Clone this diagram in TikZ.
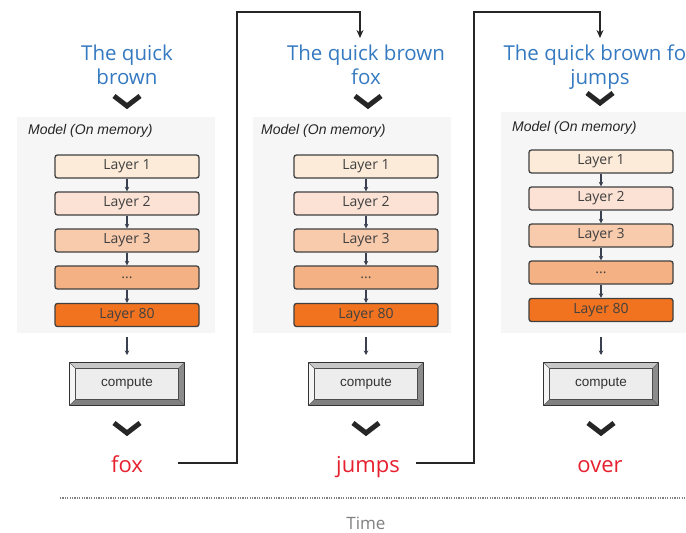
\documentclass[tikz,border=0pt]{standalone}
\usepackage{fontspec}
\setmainfont{Open Sans}
\newfontfamily\arialf{Liberation Sans}
\usetikzlibrary{calc,arrows.meta}
\definecolor{titleblue}{HTML}{3579C0}
\definecolor{wordred}{HTML}{E6202E}
\definecolor{lone}{HTML}{FCEBD8}
\definecolor{ltwo}{HTML}{FBE2D5}
\definecolor{lthree}{HTML}{F8CBAD}
\definecolor{ldots}{HTML}{F4B183}
\definecolor{leighty}{HTML}{F1731F}
\definecolor{panelgray}{HTML}{F6F6F6}
\definecolor{layerborder}{HTML}{404040}
\definecolor{arrowgray}{HTML}{3B4050}
\definecolor{timegray}{HTML}{7F7F7F}
\begin{document}
\begin{tikzpicture}[x=1pt,y=-1pt,
  titletext/.style={font=\fontsize{20.5}{24}\selectfont, text=titleblue, anchor=base, inner sep=0pt},
  wordtext/.style={font=\fontsize{22}{26}\selectfont, text=wordred, anchor=base, inner sep=0pt},
  layerbox/.style={draw=layerborder, line width=1.3pt, rounded corners=2.5pt, minimum width=144pt, minimum height=23pt, inner sep=0pt, font=\fontsize{14}{15}\selectfont, text=black!75},
  panelbox/.style={fill=panelgray, draw=none, inner sep=0pt},
  modeltext/.style={font=\arialf\itshape\fontsize{14}{16}\selectfont, text=black!85, anchor=west, inner sep=0pt},
  larrow/.style={-{Stealth[length=4.5pt,width=4.5pt]}, line width=1.2pt, draw=arrowgray},
  chev/.style={line width=5pt, draw=black!85},
  flow/.style={line width=1.5pt, draw=black!85},
  computebox/.style={draw=black!80, line width=1pt, fill=black!7, minimum width=114pt, minimum height=42pt, inner sep=0pt, font=\arialf\fontsize{13.5}{14}\selectfont, text=black!80},
]
\useasboundingbox (0,0) rectangle (686,533);

% panels
\node[panelbox, minimum width=198pt, minimum height=216pt] (p1) at (116,225) {};
\node[panelbox, minimum width=198pt, minimum height=216pt] (p2) at (352,225) {};
\node[panelbox, minimum width=186pt, minimum height=221pt] (p3) at (594,222.5) {};

% titles
\node[titletext] (t1a) at (127,60) {The quick};
\node[titletext] (t1b) at (127,84) {brown};
\node[titletext] (t2a) at (366,60) {The quick brown};
\node[titletext] (t2b) at (366,84) {fox};
\begin{scope}
\clip (0,0) rectangle (686,533);
\node[titletext] (t3a) at (600,60) {The quick brown fox};
\end{scope}
\node[titletext] (t3b) at (600,84) {jumps};

% model labels
\node[modeltext] (m1) at (28,131) {Model (On memory)};
\node[modeltext] (m2) at (261,131) {Model (On memory)};
\node[modeltext] (m3) at (512,128) {Model (On memory)};

% columns
\foreach \i/\cx/\dy in {1/127/0, 2/366/0, 3/601/-5}{
  \node[layerbox, fill=lone]    (L\i-1) at (\cx,166.5+\dy) {Layer 1};
  \node[layerbox, fill=ltwo]    (L\i-2) at (\cx,203.5+\dy) {Layer 2};
  \node[layerbox, fill=lthree]  (L\i-3) at (\cx,240.5+\dy) {Layer 3};
  \node[layerbox, fill=ldots]   (L\i-4) at (\cx,277.5+\dy) {...};
  \node[layerbox, fill=leighty] (L\i-5) at (\cx,315+\dy) {Layer 80};
  \draw[larrow] (L\i-1) -- (L\i-2);
  \draw[larrow] (L\i-2) -- (L\i-3);
  \draw[larrow] (L\i-3) -- (L\i-4);
  \draw[larrow] (L\i-4) -- (L\i-5);
  % compute box
  \node[computebox] (cp\i) at (\cx,384) {};
  \fill[black!22] (cp\i.north west) -- (cp\i.north east) -- ($(cp\i.north east)+(-6,6)$) -- ($(cp\i.north west)+(6,6)$) -- cycle;
  \fill[black!4] (cp\i.north west) -- (cp\i.south west) -- ($(cp\i.south west)+(6,-6)$) -- ($(cp\i.north west)+(6,6)$) -- cycle;
  \fill[black!45] (cp\i.north east) -- (cp\i.south east) -- ($(cp\i.south east)+(-6,-6)$) -- ($(cp\i.north east)+(-6,6)$) -- cycle;
  \fill[black!50] (cp\i.south west) -- (cp\i.south east) -- ($(cp\i.south east)+(-6,-6)$) -- ($(cp\i.south west)+(6,-6)$) -- cycle;
  \draw[black!80, line width=1pt] (cp\i.north west) rectangle (cp\i.south east);
  \draw[black!70, line width=0.8pt] ($(cp\i.north west)+(6,6)$) rectangle ($(cp\i.south east)+(-6,-6)$);
  \draw[black!60, line width=0.6pt] (cp\i.north west) -- ++(6,6) (cp\i.north east) -- ++(-6,6) (cp\i.south west) -- ++(6,-6) (cp\i.south east) -- ++(-6,-6);
  \node[font=\arialf\fontsize{13.5}{14}\selectfont, text=black!80] (ct\i) at (cp\i) {compute};
  % bottom chevron
  \draw[chev] (\cx-13,423) -- (\cx,433) -- (\cx+13,423);
}
% arrows from panels to compute
\coordinate (a1) at (127,337);
\coordinate (a2) at (366,337);
\coordinate (a3) at (601,337);
\draw[larrow] (a1) -- (a1 |- 0,355);
\draw[larrow] (a2) -- (a2 |- 0,355);
\draw[larrow] (a3) -- (a3 |- 0,355);

% top chevrons
\draw[chev] (114,96) -- (127,106) -- (140,96);
\draw[chev] (355,96) -- (368,106) -- (381,96);
\draw[chev] (587,93) -- (600,103) -- (613,93);

% output words
\node[wordtext] (w1) at (127,472) {fox};
\node[wordtext] (w2) at (368,472) {jumps};
\node[wordtext] (w3) at (600,472) {over};

% feedback connectors
\coordinate (f1s) at (178,463);
\coordinate (f1e) at (360,38);
\coordinate (f2s) at (416,463);
\coordinate (f2e) at (600,38);
\draw[flow, -{Stealth[length=8pt,width=7pt]}] (f1s) -- (237,463) -- (237,12) -- (360,12) -- (f1e);
\draw[flow, -{Stealth[length=8pt,width=7pt]}] (f2s) -- (474,463) -- (474,12) -- (600,12) -- (f2e);

% time axis
\coordinate (d1) at (60,498);
\coordinate (d2) at (686,498);
\draw[timegray, line width=1.4pt, dash pattern=on 1.2pt off 1.2pt] (d1) -- (d2);
\node[font=\fontsize{17}{20}\selectfont, text=timegray, anchor=base, inner sep=0pt] (time) at (366,529) {Time};
\end{tikzpicture}
\end{document}
